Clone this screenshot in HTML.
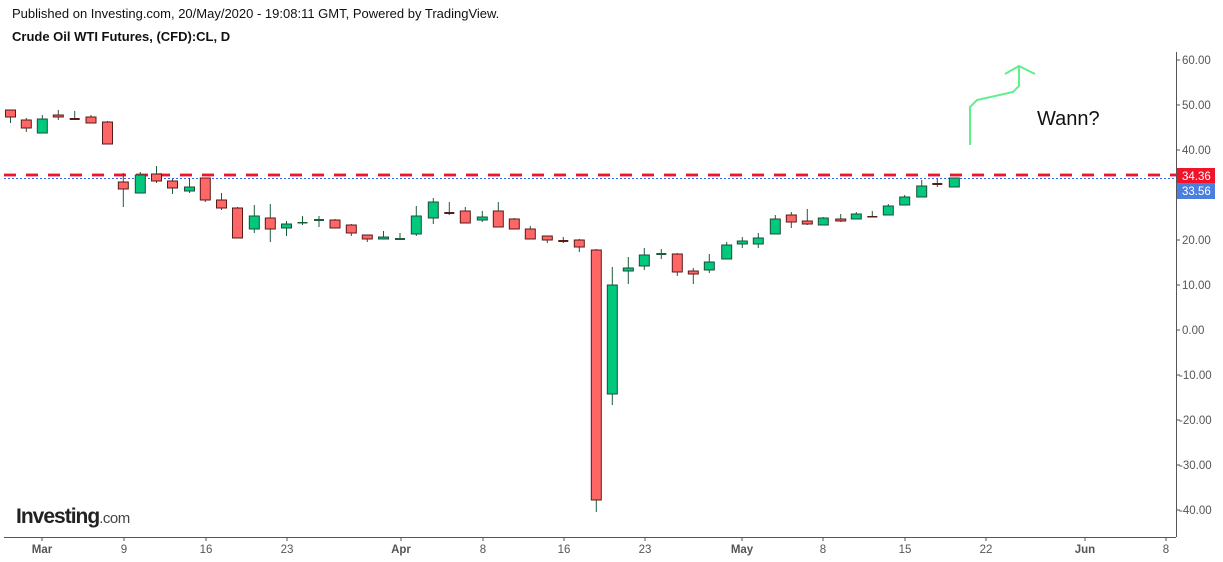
<!DOCTYPE html>
<html><head><meta charset="utf-8"><style>
body{margin:0;background:#fff;width:1223px;height:557px;overflow:hidden;font-family:"Liberation Sans",sans-serif}
</style></head><body>
<svg width="1223" height="557" xmlns="http://www.w3.org/2000/svg" font-family="Liberation Sans, sans-serif">
<text x="12" y="18" font-size="13" fill="#111">Published on Investing.com, 20/May/2020 - 19:08:11 GMT, Powered by TradingView.</text>
<text x="12" y="41" font-size="13" font-weight="bold" fill="#111">Crude Oil WTI Futures, (CFD):CL, D</text>
<line x1="1176.5" y1="52" x2="1176.5" y2="537" stroke="#555" stroke-width="1"/>
<line x1="4" y1="537.5" x2="1176" y2="537.5" stroke="#555" stroke-width="1"/>
<g font-size="11.5" fill="#555">
<g stroke="#555"><line x1="1176" y1="60" x2="1180" y2="60"/><line x1="1176" y1="105" x2="1180" y2="105"/><line x1="1176" y1="150" x2="1180" y2="150"/><line x1="1176" y1="240" x2="1180" y2="240"/><line x1="1176" y1="285" x2="1180" y2="285"/><line x1="1176" y1="330" x2="1180" y2="330"/><line x1="1176" y1="375" x2="1180" y2="375"/><line x1="1176" y1="420" x2="1180" y2="420"/><line x1="1176" y1="465" x2="1180" y2="465"/><line x1="1176" y1="510" x2="1180" y2="510"/></g>
<text x="1182" y="64">60.00</text><text x="1182" y="109">50.00</text><text x="1182" y="154">40.00</text><text x="1182" y="244">20.00</text><text x="1182" y="289">10.00</text><text x="1182" y="334">0.00</text><text x="1179" y="379">-10.00</text><text x="1179" y="424">-20.00</text><text x="1179" y="469">-30.00</text><text x="1179" y="514">-40.00</text>
</g>
<g stroke="#555"><line x1="42" y1="537" x2="42" y2="541"/><line x1="124" y1="537" x2="124" y2="541"/><line x1="206" y1="537" x2="206" y2="541"/><line x1="287" y1="537" x2="287" y2="541"/><line x1="401" y1="537" x2="401" y2="541"/><line x1="483" y1="537" x2="483" y2="541"/><line x1="564" y1="537" x2="564" y2="541"/><line x1="645" y1="537" x2="645" y2="541"/><line x1="742" y1="537" x2="742" y2="541"/><line x1="823" y1="537" x2="823" y2="541"/><line x1="905" y1="537" x2="905" y2="541"/><line x1="986" y1="537" x2="986" y2="541"/><line x1="1085" y1="537" x2="1085" y2="541"/><line x1="1166" y1="537" x2="1166" y2="541"/></g>
<g font-size="11.5" fill="#555" text-anchor="middle">
<text x="42" y="553" font-weight="bold">Mar</text><text x="124" y="553">9</text><text x="206" y="553">16</text><text x="287" y="553">23</text><text x="401" y="553" font-weight="bold">Apr</text><text x="483" y="553">8</text><text x="564" y="553">16</text><text x="645" y="553">23</text><text x="742" y="553" font-weight="bold">May</text><text x="823" y="553">8</text><text x="905" y="553">15</text><text x="986" y="553">22</text><text x="1085" y="553" font-weight="bold">Jun</text><text x="1166" y="553">8</text>
</g>
<line x1="4" y1="175" x2="1176" y2="175" stroke="#f5a0a8" stroke-width="4" stroke-dasharray="12 10"/>
<line x1="4" y1="175" x2="1176" y2="175" stroke="#f0142a" stroke-width="2" stroke-dasharray="12 10"/>
<line x1="4" y1="178.5" x2="1176" y2="178.5" stroke="#2f6bea" stroke-width="1" stroke-dasharray="2 2"/>
<rect x="1177" y="168" width="38" height="15" fill="#f0142a"/><text x="1182" y="180" font-size="11.5" fill="#fff">34.36</text>
<rect x="1177" y="183" width="38" height="16" fill="#4a7fe0"/><text x="1182" y="195" font-size="11.5" fill="#fff">33.56</text>

<g stroke="#1b5e3b" stroke-width="1">
<line x1="10.5" y1="110" x2="10.5" y2="123"/><line x1="26.3" y1="118" x2="26.3" y2="132"/><line x1="42.3" y1="115" x2="42.3" y2="133"/><line x1="58.3" y1="110" x2="58.3" y2="120"/><line x1="74.7" y1="111" x2="74.7" y2="119"/><line x1="91" y1="115" x2="91" y2="123"/><line x1="107.5" y1="121" x2="107.5" y2="144"/>
<line x1="123.3" y1="173" x2="123.3" y2="207"/><line x1="140.3" y1="172" x2="140.3" y2="193"/><line x1="156.5" y1="166" x2="156.5" y2="183"/><line x1="172.5" y1="179" x2="172.5" y2="194"/><line x1="189.5" y1="178" x2="189.5" y2="193"/><line x1="205.3" y1="178" x2="205.3" y2="202"/><line x1="221.5" y1="193" x2="221.5" y2="210"/><line x1="237.5" y1="207" x2="237.5" y2="238"/><line x1="254.3" y1="205" x2="254.3" y2="233"/><line x1="270.3" y1="204" x2="270.3" y2="242"/><line x1="286.5" y1="221" x2="286.5" y2="236"/><line x1="302.5" y1="216" x2="302.5" y2="225"/><line x1="319" y1="216" x2="319" y2="227"/><line x1="335" y1="219" x2="335" y2="228"/><line x1="351.3" y1="224" x2="351.3" y2="236"/><line x1="367.3" y1="235" x2="367.3" y2="242"/><line x1="383.5" y1="231" x2="383.5" y2="239"/><line x1="400" y1="233" x2="400" y2="239"/>
<line x1="416.3" y1="206" x2="416.3" y2="236"/><line x1="433.3" y1="198" x2="433.3" y2="224"/><line x1="449.3" y1="202" x2="449.3" y2="215"/><line x1="465.3" y1="207" x2="465.3" y2="223"/><line x1="482.3" y1="211" x2="482.3" y2="222"/><line x1="498.3" y1="202" x2="498.3" y2="227"/><line x1="514.3" y1="218" x2="514.3" y2="229"/><line x1="530.3" y1="226" x2="530.3" y2="239"/><line x1="547.3" y1="236" x2="547.3" y2="243"/><line x1="563.3" y1="237" x2="563.3" y2="243"/><line x1="579.3" y1="239" x2="579.3" y2="252"/><line x1="596.3" y1="249" x2="596.3" y2="512"/><line x1="612.3" y1="267" x2="612.3" y2="405"/><line x1="628.3" y1="257" x2="628.3" y2="284"/><line x1="644.3" y1="248" x2="644.3" y2="270"/><line x1="661.3" y1="249" x2="661.3" y2="259"/><line x1="677.3" y1="253" x2="677.3" y2="276"/><line x1="693.3" y1="268" x2="693.3" y2="284"/><line x1="709.3" y1="254" x2="709.3" y2="273"/><line x1="726.7" y1="242" x2="726.7" y2="259"/><line x1="742.3" y1="237" x2="742.3" y2="248"/><line x1="758.3" y1="233" x2="758.3" y2="248"/><line x1="775.3" y1="215" x2="775.3" y2="234"/><line x1="791.3" y1="212" x2="791.3" y2="228"/><line x1="807.3" y1="209" x2="807.3" y2="225"/><line x1="823.3" y1="217" x2="823.3" y2="225"/><line x1="840.7" y1="214" x2="840.7" y2="222"/><line x1="856.3" y1="212" x2="856.3" y2="219"/><line x1="872.3" y1="211" x2="872.3" y2="217"/><line x1="888.3" y1="204" x2="888.3" y2="215"/><line x1="904.7" y1="195" x2="904.7" y2="205"/><line x1="921.7" y1="180" x2="921.7" y2="197"/><line x1="937.3" y1="179" x2="937.3" y2="187"/><line x1="954.3" y1="178" x2="954.3" y2="187"/>
</g>
<g fill="#ff6666" stroke="#5a1a1a" stroke-width="1">
<rect x="5.5" y="110" width="10" height="7"/><rect x="21.3" y="120" width="10" height="8"/><rect x="53.3" y="115" width="10" height="2"/><rect x="86" y="117" width="10" height="6"/><rect x="102.5" y="122" width="10" height="22"/>
<rect x="118.3" y="182" width="10" height="7"/><rect x="151.5" y="174" width="10" height="7"/><rect x="167.5" y="181" width="10" height="7"/><rect x="200.3" y="178" width="10" height="22"/><rect x="216.5" y="200" width="10" height="8"/><rect x="232.5" y="208" width="10" height="30"/><rect x="265.3" y="218" width="10" height="11"/><rect x="330" y="220" width="10" height="8"/><rect x="346.3" y="225" width="10" height="8"/><rect x="362.3" y="235" width="10" height="4"/>
<rect x="460.3" y="211" width="10" height="12"/><rect x="493.3" y="211" width="10" height="16"/><rect x="509.3" y="219" width="10" height="10"/><rect x="525.3" y="229" width="10" height="10"/><rect x="542.3" y="236" width="10" height="4"/><rect x="574.3" y="240" width="10" height="7"/><rect x="591.3" y="250" width="10" height="250"/><rect x="672.3" y="254" width="10" height="18"/><rect x="688.3" y="271" width="10" height="3"/><rect x="786.3" y="215" width="10" height="7"/><rect x="802.3" y="221" width="10" height="3"/><rect x="835.7" y="219" width="10" height="2"/>
</g>
<g fill="#00c87c" stroke="#1d4d3a" stroke-width="1">
<rect x="37.3" y="119" width="10" height="14"/><rect x="135.3" y="175" width="10" height="18"/><rect x="184.5" y="187" width="10" height="4"/><rect x="249.3" y="216" width="10" height="13"/><rect x="281.5" y="224" width="10" height="4"/><rect x="378.5" y="237" width="10" height="2"/>
<rect x="411.3" y="216" width="10" height="18"/><rect x="428.3" y="202" width="10" height="16"/><rect x="477.3" y="217" width="10" height="3"/><rect x="607.3" y="285" width="10" height="109"/><rect x="623.3" y="268" width="10" height="3"/><rect x="639.3" y="255" width="10" height="11"/><rect x="704.3" y="262" width="10" height="8"/><rect x="721.7" y="245" width="10" height="14"/><rect x="737.3" y="241" width="10" height="3"/><rect x="753.3" y="238" width="10" height="6"/><rect x="770.3" y="219" width="10" height="15"/><rect x="818.3" y="218" width="10" height="7"/><rect x="851.3" y="214" width="10" height="5"/><rect x="883.3" y="206" width="10" height="9"/><rect x="899.7" y="197" width="10" height="8"/><rect x="916.7" y="186" width="10" height="11"/><rect x="949.3" y="178" width="10" height="9"/>
</g>
<g>
<rect x="69.7" y="118" width="10" height="2" fill="#5a1a1a"/><rect x="444.3" y="212" width="10" height="2" fill="#5a1a1a"/><rect x="558.3" y="240" width="10" height="2" fill="#5a1a1a"/><rect x="867.3" y="216" width="10" height="1.5" fill="#5a1a1a"/><rect x="932.3" y="183" width="10" height="2" fill="#5a1a1a"/>
<rect x="297.5" y="222" width="10" height="1.5" fill="#1b5e3b"/><rect x="314" y="219" width="10" height="2" fill="#1b5e3b"/><rect x="395" y="238" width="10" height="2" fill="#1b5e3b"/><rect x="656.3" y="253" width="10" height="2" fill="#1b5e3b"/>
</g>

<polyline points="970,145 970,107 977,100 1013,92 1019,86 1019,67" fill="none" stroke="#5ef08a" stroke-width="2"/>
<polyline points="1005,74 1019,66 1035,74" fill="none" stroke="#5ef08a" stroke-width="2"/>
<text x="1037" y="125" font-size="20" fill="#111">Wann?</text>
<text x="16" y="523" font-size="21" font-weight="bold" fill="#222" letter-spacing="-1">Investing<tspan font-size="15" font-weight="normal" fill="#444" letter-spacing="-0.5">.com</tspan></text>
</svg>
</body></html>
